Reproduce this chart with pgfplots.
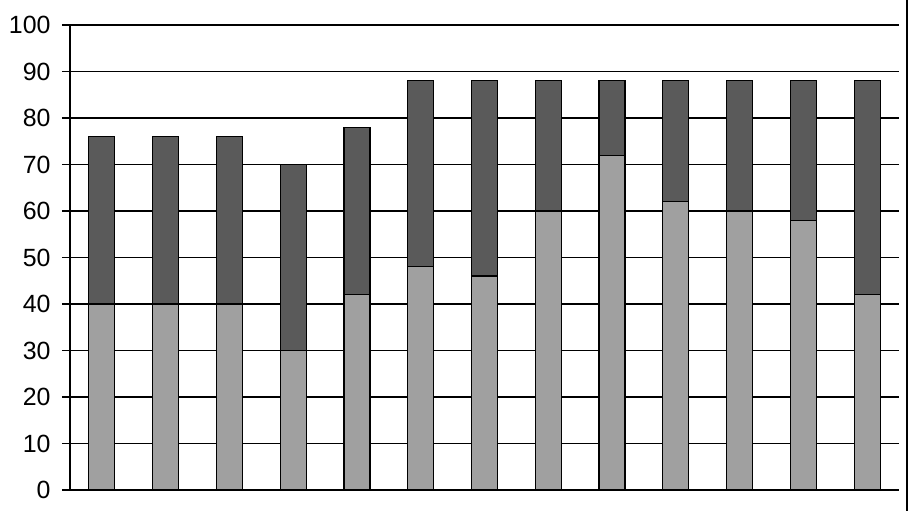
\documentclass[border=0pt]{standalone}
\usepackage{pgfplots}
\pgfplotsset{compat=1.18}
\usepackage{fontspec}
\setmainfont{Liberation Sans}
\definecolor{lowgray}{HTML}{A0A0A0}
\definecolor{highgray}{HTML}{5A5A5A}
\begin{document}
\begin{tikzpicture}
\begin{axis}[
  scale only axis,
  width=829bp, height=465bp,
  ybar stacked,
  bar width=26bp,
  xmin=-0.5, xmax=12.5,
  ymin=0, ymax=100,
  ytick={0,10,...,100},
  xtick=\empty,
  axis x line=bottom,
  axis y line=left,
  axis line style={-, line width=1.2bp, black},
  ymajorgrids,
  major grid style={line width=1.2bp, black},
  tick align=outside,
  major tick length=8bp,
  tick style={line width=1.2bp, black},
  /pgf/number format/assume math mode=true,
  yticklabel style={font=\fontsize{25}{30}\selectfont, xshift=-8bp},
  clip=false,
]
\addplot[fill=lowgray, draw=black, line width=1.2bp] coordinates {
(0,40) (1,40) (2,40) (3,30) (4,42) (5,48) (6,46) (7,60) (8,72) (9,62) (10,60) (11,58) (12,42)};
\addplot[fill=highgray, draw=black, line width=1.2bp] coordinates {
(0,36) (1,36) (2,36) (3,40) (4,36) (5,40) (6,42) (7,28) (8,16) (9,26) (10,28) (11,30) (12,46)};
\coordinate (ll) at (rel axis cs:0,0);
\coordinate (ur) at (rel axis cs:1,1);
\end{axis}
\path[use as bounding box] (ll) ++(-70bp,-21bp) rectangle ++(917bp,511bp);
\draw[line width=1.2bp] (ll) ++(837bp,-21bp) -- ++(0,511bp);
\end{tikzpicture}
\end{document}
